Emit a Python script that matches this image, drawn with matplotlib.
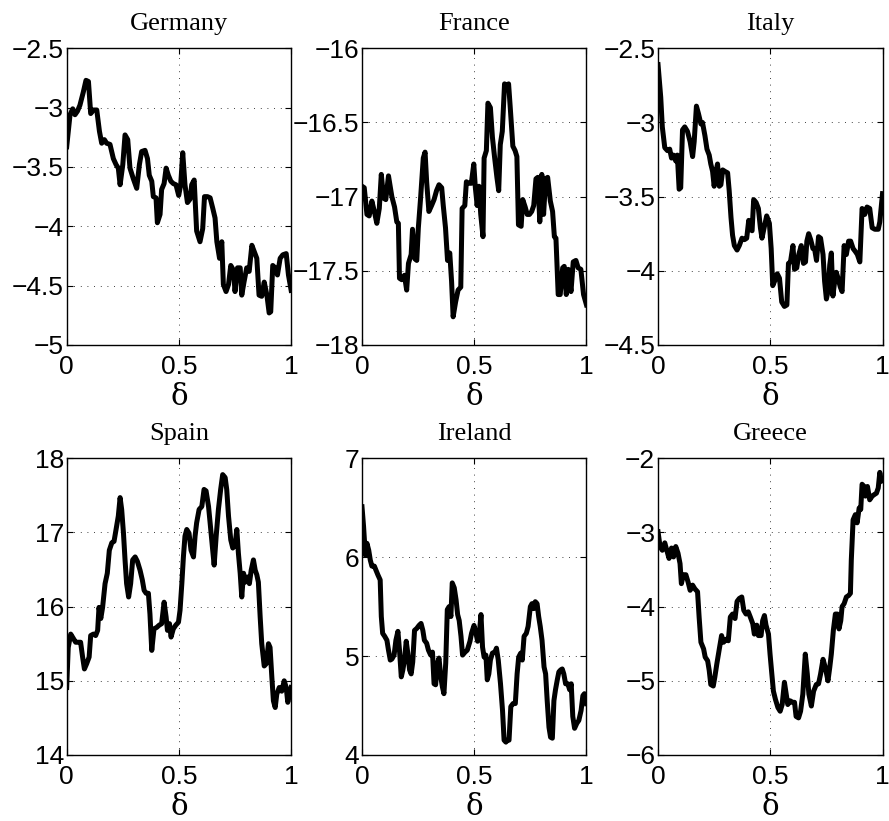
import matplotlib
matplotlib.use("Agg")
import matplotlib.pyplot as plt
from matplotlib.ticker import FuncFormatter

# values (delta on x)
germany_d = [0, .015, .027, .037, .048, .059, .074, .086, .097, .107, .119, .134, .146, .156, .168, .178,
             .193, .208, .220, .230, .238, .250, .260, .272, .282, .297, .312, .324, .334, .349, .360, .368,
             .379, .386, .398, .404, .416, .423, .434, .443, .453, .464, .475, .487, .499, .508, .517, .527,
             .538, .550, .557, .568, .579, .594, .606, .614, .627, .639, .651, .661, .669, .681, .691, .698,
             .710, .721, .731, .743, .750, .761, .773, .780, .790, .802, .813, .825, .835, .847, .857, .869,
             .880, .892, .902, .909, .918, .929, .939, .951, .963, .978, .988, 1.0]
germany_v = [-3.33, -3.06, -3.01, -3.06, -3.03, -2.98, -2.87, -2.77, -2.78, -3.05, -3.02, -3.02, -3.20, -3.30,
             -3.27, -3.30, -3.31, -3.43, -3.48, -3.51, -3.65, -3.48, -3.23, -3.27, -3.51, -3.60, -3.68, -3.48,
             -3.37, -3.36, -3.43, -3.57, -3.62, -3.75, -3.76, -3.97, -3.90, -3.69, -3.64, -3.51, -3.57, -3.62,
             -3.64, -3.65, -3.74, -3.65, -3.38, -3.65, -3.80, -3.77, -3.65, -3.61, -4.04, -4.13, -4.02, -3.75,
             -3.75, -3.76, -3.85, -3.93, -4.13, -4.27, -4.13, -4.49, -4.55, -4.49, -4.33, -4.37, -4.55, -4.35,
             -4.35, -4.58, -4.47, -4.35, -4.38, -4.16, -4.21, -4.27, -4.58, -4.59, -4.47, -4.58, -4.73, -4.72,
             -4.33, -4.35, -4.41, -4.27, -4.24, -4.23, -4.41, -4.54]

france_d = [0, .010, .022, .032, .044, .055, .066, .077, .086, .096, .106, .118, .133, .145, .155, .162, .167,
            .177, .189, .199, .207, .219, .225, .236, .244, .251, .261, .273, .281, .288, .298, .310, .321, .332,
            .343, .355, .362, .372, .381, .391, .399, .406, .417, .428, .440, .446, .458, .465, .476, .487, .498,
            .505, .513, .521, .529, .539, .544, .554, .561, .572, .581, .591, .601, .609, .616, .625, .635, .646,
            .653, .660, .672, .682, .690, .697, .709, .716, .727, .736, .746, .756, .765, .775, .783, .792, .801,
            .809, .818, .827, .839, .849, .857, .864, .874, .883, .894, .901, .910, .919, .931, .941, .953, .963,
            .975, .987, 1.0]
france_v = [-16.93, -16.94, -17.12, -17.13, -17.03, -17.10, -17.18, -17.08, -16.85, -17.01, -17.02, -16.86,
            -17.00, -17.07, -17.17, -17.18, -17.55, -17.56, -17.53, -17.63, -17.45, -17.39, -17.22, -17.42,
            -17.43, -17.21, -17.01, -16.74, -16.70, -16.90, -17.10, -17.06, -17.02, -16.96, -16.92, -16.94,
            -17.06, -17.21, -17.43, -17.38, -17.57, -17.81, -17.71, -17.63, -17.61, -17.08, -17.06, -16.90,
            -16.91, -16.91, -16.78, -16.94, -17.06, -16.93, -17.12, -17.27, -16.74, -16.69, -16.37, -16.40,
            -16.60, -16.74, -16.87, -16.96, -16.65, -16.56, -16.24, -16.25, -16.24, -16.39, -16.66, -16.69,
            -16.73, -17.19, -17.20, -17.02, -17.07, -17.12, -17.12, -17.10, -17.06, -16.88, -16.87, -17.17,
            -16.85, -17.12, -16.88, -16.87, -17.03, -17.10, -17.27, -17.28, -17.66, -17.66, -17.48, -17.47,
            -17.66, -17.49, -17.64, -17.44, -17.43, -17.48, -17.49, -17.66, -17.73]

italy_d = [0, .012, .019, .030, .042, .052, .060, .069, .079, .086, .094, .101, .109, .119, .131, .143, .154,
           .161, .171, .180, .191, .198, .209, .218, .228, .235, .243, .250, .258, .265, .273, .280, .288, .298,
           .310, .317, .325, .332, .340, .352, .362, .374, .385, .395, .404, .411, .419, .426, .437, .447, .456,
           .463, .474, .484, .496, .504, .511, .522, .531, .541, .551, .563, .574, .581, .590, .601, .608, .618,
           .627, .638, .648, .657, .663, .671, .680, .690, .697, .706, .715, .724, .735, .742, .750, .757, .765,
           .772, .779, .787, .794, .802, .812, .820, .829, .839, .849, .858, .869, .879, .888, .899, .909, .921,
           .931, .943, .954, .966, .981, .988, 1.0]
italy_v = [-2.61, -2.83, -3.03, -3.17, -3.19, -3.18, -3.24, -3.22, -3.26, -3.22, -3.45, -3.44, -3.05, -3.03,
           -3.06, -3.13, -3.23, -3.13, -2.89, -2.94, -3.01, -3.00, -3.09, -3.18, -3.22, -3.28, -3.33, -3.43,
           -3.33, -3.28, -3.43, -3.42, -3.32, -3.33, -3.34, -3.46, -3.64, -3.76, -3.83, -3.86, -3.83, -3.78,
           -3.79, -3.78, -3.66, -3.72, -3.73, -3.52, -3.54, -3.58, -3.71, -3.78, -3.70, -3.63, -3.68, -3.85,
           -4.10, -4.06, -4.02, -4.05, -4.21, -4.24, -4.23, -3.95, -3.94, -3.83, -3.99, -3.98, -3.89, -3.83,
           -3.95, -3.94, -3.80, -3.75, -3.79, -3.85, -3.85, -3.93, -3.77, -3.78, -3.89, -4.07, -4.19, -4.14,
           -3.96, -3.88, -4.17, -4.07, -4.01, -4.05, -4.11, -4.14, -3.83, -3.89, -3.80, -3.80, -3.85, -3.87,
           -3.89, -3.94, -3.58, -3.62, -3.57, -3.58, -3.71, -3.72, -3.72, -3.67, -3.48]

spain_d = [0, .007, .018, .030, .040, .052, .062, .071, .079, .089, .100, .107, .119, .129, .138, .144, .152,
           .160, .171, .181, .190, .201, .211, .220, .230, .238, .245, .253, .260, .267, .276, .285, .294, .305,
           .315, .327, .337, .345, .354, .364, .371, .379, .389, .401, .412, .423, .434, .443, .449, .458, .465,
           .475, .486, .498, .505, .513, .520, .527, .535, .545, .554, .565, .572, .579, .590, .602, .612, .621,
           .632, .639, .649, .657, .666, .676, .686, .695, .706, .713, .721, .731, .740, .750, .758, .765, .773,
           .780, .788, .795, .805, .814, .822, .832, .840, .847, .854, .862, .869, .880, .889, .899, .906, .914,
           .921, .929, .936, .947, .958, .969, .978, .985, .996, 1.0]
spain_v = [14.91, 15.45, 15.63, 15.57, 15.52, 15.52, 15.52, 15.32, 15.16, 15.23, 15.32, 15.61, 15.63, 15.61,
           15.68, 15.99, 15.84, 15.99, 16.31, 16.45, 16.76, 16.86, 16.88, 17.04, 17.22, 17.47, 17.31, 16.99,
           16.63, 16.31, 16.13, 16.31, 16.63, 16.67, 16.61, 16.49, 16.36, 16.22, 16.18, 16.18, 15.90, 15.41,
           15.70, 15.72, 15.75, 15.77, 16.06, 15.86, 15.68, 15.77, 15.59, 15.70, 15.75, 15.79, 15.95, 16.31,
           16.67, 16.95, 17.04, 16.99, 16.76, 16.67, 16.95, 17.13, 17.31, 17.35, 17.58, 17.56, 17.35, 17.13,
           16.81, 16.56, 16.95, 17.31, 17.58, 17.78, 17.74, 17.58, 17.22, 16.90, 16.79, 16.83, 17.04, 16.72,
           16.45, 16.13, 16.45, 16.33, 16.40, 16.31, 16.49, 16.63, 16.49, 16.43, 16.33, 15.86, 15.50, 15.20,
           15.23, 15.50, 15.45, 15.05, 14.73, 14.64, 14.82, 14.91, 14.86, 15.00, 14.91, 14.71, 14.86, 14.91]

ireland_d = [0, .007, .015, .022, .030, .037, .044, .055, .062, .071, .081, .086, .092, .101, .111, .118, .126,
             .133, .143, .151, .160, .167, .175, .182, .189, .197, .204, .212, .219, .226, .234, .244, .254,
             .263, .271, .278, .288, .296, .306, .314, .321, .328, .336, .343, .351, .358, .365, .373, .380,
             .388, .396, .402, .411, .419, .426, .433, .441, .448, .459, .469, .481, .488, .499, .506, .515,
             .522, .530, .537, .544, .552, .558, .565, .572, .581, .592, .599, .607, .617, .626, .633, .641,
             .648, .655, .663, .673, .683, .691, .698, .707, .714, .722, .732, .740, .750, .757, .765, .772,
             .780, .787, .794, .802, .811, .818, .825, .833, .840, .848, .855, .862, .870, .877, .885, .892,
             .899, .907, .917, .925, .932, .939, .947, .957, .966, .976, .984, .991, 1.0]
ireland_v = [6.51, 6.31, 6.02, 6.14, 6.07, 5.97, 5.91, 5.91, 5.87, 5.82, 5.77, 5.40, 5.23, 5.20, 5.16, 5.06,
             4.96, 4.97, 5.01, 5.16, 5.25, 5.06, 4.79, 4.86, 4.96, 5.15, 5.03, 4.86, 4.82, 4.94, 5.26, 5.28,
             5.31, 5.33, 5.26, 5.16, 5.13, 5.06, 5.01, 5.04, 4.72, 4.71, 4.93, 4.98, 4.79, 4.69, 4.62, 4.93,
             5.47, 5.50, 5.40, 5.74, 5.69, 5.57, 5.42, 5.36, 5.20, 5.01, 5.04, 5.06, 5.15, 5.23, 5.31, 5.25,
             5.15, 5.21, 5.42, 5.09, 4.99, 5.01, 4.76, 4.82, 4.96, 5.03, 5.04, 5.08, 4.96, 4.72, 4.45, 4.15,
             4.13, 4.15, 4.15, 4.49, 4.52, 4.52, 4.82, 4.99, 5.03, 4.96, 5.20, 5.23, 5.30, 5.50, 5.53, 5.48,
             5.55, 5.53, 5.40, 5.30, 5.16, 4.89, 4.82, 4.55, 4.28, 4.18, 4.17, 4.55, 4.66, 4.76, 4.84, 4.86,
             4.87, 4.82, 4.72, 4.72, 4.66, 4.72, 4.39, 4.27, 4.32, 4.35, 4.45, 4.60, 4.62, 4.52]

greece_d = [0, .009, .019, .030, .039, .049, .060, .069, .079, .089, .098, .104, .113, .124, .134, .143, .154,
            .164, .176, .183, .191, .203, .210, .221, .228, .235, .246, .253, .262, .273, .283, .292, .303, .313,
            .322, .332, .343, .352, .362, .373, .382, .392, .402, .411, .422, .429, .440, .447, .459, .466, .474,
            .481, .492, .499, .507, .514, .523, .534, .544, .553, .563, .571, .578, .589, .598, .608, .615, .626,
            .635, .645, .656, .665, .672, .683, .693, .705, .715, .724, .735, .745, .757, .765, .772, .781, .790,
            .799, .806, .814, .820, .829, .839, .849, .857, .861, .869, .879, .887, .896, .903, .909, .918, .924,
            .933, .943, .954, .963, .973, .981, .988, .995, 1.0]
greece_v = [-2.99, -3.19, -3.24, -3.14, -3.24, -3.35, -3.21, -3.33, -3.19, -3.28, -3.42, -3.69, -3.57, -3.57,
            -3.67, -3.78, -3.71, -3.76, -3.80, -4.14, -4.48, -4.57, -4.68, -4.73, -4.86, -5.05, -5.07, -4.95,
            -4.77, -4.57, -4.39, -4.48, -4.44, -4.46, -4.14, -4.10, -4.16, -3.93, -3.89, -3.87, -4.05, -4.10,
            -4.07, -4.14, -4.23, -4.37, -4.25, -4.39, -4.39, -4.19, -4.12, -4.25, -4.37, -4.64, -4.91, -5.14,
            -5.25, -5.36, -5.41, -5.32, -5.02, -5.18, -5.32, -5.27, -5.29, -5.29, -5.48, -5.50, -5.41, -5.18,
            -4.64, -4.91, -5.18, -5.34, -5.14, -5.05, -5.04, -4.91, -4.71, -4.82, -5.00, -4.82, -4.64, -4.32,
            -4.10, -4.10, -4.30, -4.19, -4.00, -3.96, -3.87, -3.85, -3.82, -3.37, -2.83, -2.76, -2.87, -2.67,
            -2.69, -2.35, -2.38, -2.51, -2.38, -2.56, -2.51, -2.49, -2.47, -2.40, -2.19, -2.31, -2.29]

names = ["Germany", "France", "Italy", "Spain", "Ireland", "Greece"]
series = [(germany_d, germany_v), (france_d, france_v), (italy_d, italy_v),
          (spain_d, spain_v), (ireland_d, ireland_v), (greece_d, greece_v)]
ylims = [(-5, -2.5), (-18, -16), (-4.5, -2.5), (14, 18), (4, 7), (-6, -2)]
ysteps = [0.5, 0.5, 0.5, 1, 1, 1]

plt.rcParams['font.family'] = ['Liberation Sans', 'DejaVu Sans']
plt.rcParams['axes.unicode_minus'] = True

fig = plt.figure(figsize=(8.89, 8.21), dpi=100)
lefts = [0.0750, 0.4072, 0.7402]
bottoms = [0.5798, 0.0804]
w, h = 0.2525, 0.3614

fmt = FuncFormatter(lambda v, p: ('%g' % v).replace('-', '\u2212'))

for i, name in enumerate(names):
    ax = fig.add_axes([lefts[i % 3], bottoms[i // 3], w, h])
    d, v = series[i]
    ax.plot(d, v, color='black', lw=3.6)
    lo, hi = ylims[i]
    n = int(round((hi - lo) / ysteps[i]))
    ax.set_xlim(0, 1)
    ax.set_ylim(lo, hi)
    ax.set_xticks([0, 0.5, 1])
    ax.set_yticks([lo + k * ysteps[i] for k in range(n + 1)])
    ax.xaxis.set_major_formatter(fmt)
    ax.yaxis.set_major_formatter(fmt)
    ax.tick_params(direction='in', length=4, width=0.8, top=True, right=True,
                   labelsize=19, colors='black')
    ax.tick_params(axis='x', pad=7)
    ax.tick_params(axis='y', pad=2)
    ax.grid(True, color='black', lw=0.6, linestyle=(0, (1, 7)))
    for s in ax.spines.values():
        s.set_linewidth(1.0)
    ax.set_title(name, family='Liberation Serif', fontsize=19, pad=13.5)
    ax.set_xlabel('\u03b4', family='DejaVu Serif', fontsize=21, labelpad=3)

fig.savefig('out.png', dpi=100)
